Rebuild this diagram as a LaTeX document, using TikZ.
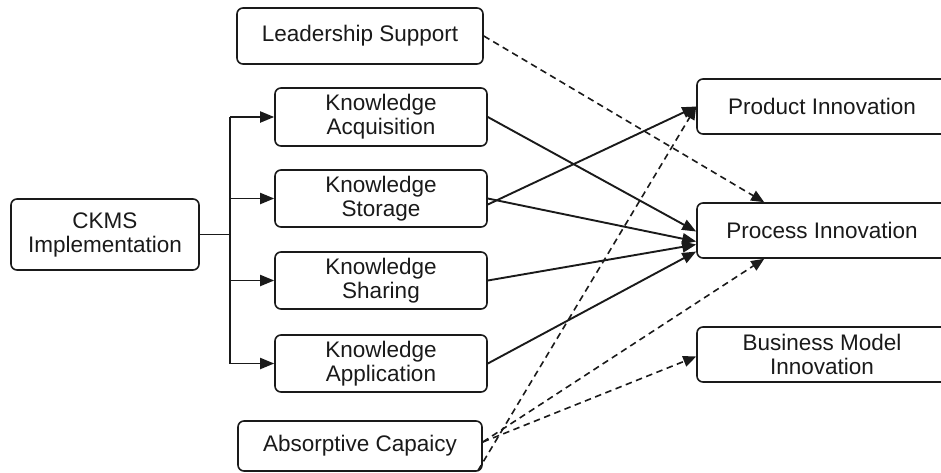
\documentclass[tikz,border=0pt]{standalone}
\usepackage{fontspec}
\setmainfont{Liberation Sans}
\usetikzlibrary{arrows.meta,calc}

\definecolor{ink}{HTML}{1A1A1A}

\tikzset{
  box/.style={draw=ink, line width=1.6pt, rounded corners=6pt, fill=white,
    inner sep=0pt, align=center, text=ink,
    font=\fontsize{22.5}{24}\selectfont},
  solidlink/.style={draw=ink, line width=1.9pt,
    -{Triangle[length=14pt,width=11pt]}},
  dashlink/.style={draw=ink, line width=1.6pt, dash pattern=on 6.5pt off 4.5pt,
    -{Triangle[length=13pt,width=11pt]}},
  trunkline/.style={draw=ink, line width=1.9pt},
}

\begin{document}
\begin{tikzpicture}[x=1pt, y=-1pt]
  \useasboundingbox (0,0) rectangle (941,472);
  \clip (0,0) rectangle (941,472);

  % source boxes
  \node[box, minimum width=246pt, minimum height=56pt] (leader) at (360,36) {Leadership Support};
  \node[box, minimum width=188pt, minimum height=71pt] (ckms) at (105,234.5) {CKMS\\Implementation};
  \node[box, minimum width=212pt, minimum height=58pt] (kacq) at (381,117) {Knowledge\\Acquisition};
  \node[box, minimum width=212pt, minimum height=57pt] (ksto) at (381,198.5) {Knowledge\\Storage};
  \node[box, minimum width=212pt, minimum height=57pt] (kshr) at (381,280.5) {Knowledge\\Sharing};
  \node[box, minimum width=212pt, minimum height=57pt] (kapp) at (381,363.5) {Knowledge\\Application};
  \node[box, minimum width=244pt, minimum height=50pt] (absc) at (360,446) {Absorptive Capaicy};

  % outcome boxes
  \node[box, minimum width=250pt, minimum height=55pt] (prod) at (822,106.5) {Product Innovation};
  \node[box, minimum width=250pt, minimum height=55pt] (proc) at (822,230.5) {Process Innovation};
  \node[box, minimum width=250pt, minimum height=55pt] (bmi) at (822,354.5) {Business Model\\Innovation};

  % branching tree from CKMS to the four knowledge processes
  \coordinate (trunk) at (230,0);
  \draw[trunkline] (ckms.east) -- (ckms.east -| trunk);
  \draw[trunkline] (kacq.west -| trunk) -- (kapp.west -| trunk);
  \foreach \k in {kacq,ksto,kshr,kapp}
    \draw[solidlink] (\k.west -| trunk) -- (\k.west);

  % knowledge processes to innovation
  \draw[solidlink] (kacq.east) -- ($(proc.west)+(0,1)$);
  \draw[solidlink] ($(ksto.east)+(0,6)$) -- (prod.west);
  \draw[solidlink] (ksto.east) -- ($(proc.west)+(0,11)$);
  \draw[solidlink] (kshr.east) -- ($(proc.west)+(0,14)$);
  \draw[solidlink] (kapp.east) -- ($(proc.west)+(0,21)$);

  % moderating paths
  \draw[dashlink] (leader.east) -- ($(proc.north west)+(68,0)$);
  \draw[dashlink] ($(absc.east)+(0,-4)$) -- ($(proc.south west)+(68,0)$);
  \draw[dashlink] ($(absc.east)+(0,-4)$) -- ($(bmi.west)+(0,2)$);
  \draw[dashlink] ($(absc.south east)+(-5,-1)$) -- (prod.west);
\end{tikzpicture}
\end{document}
